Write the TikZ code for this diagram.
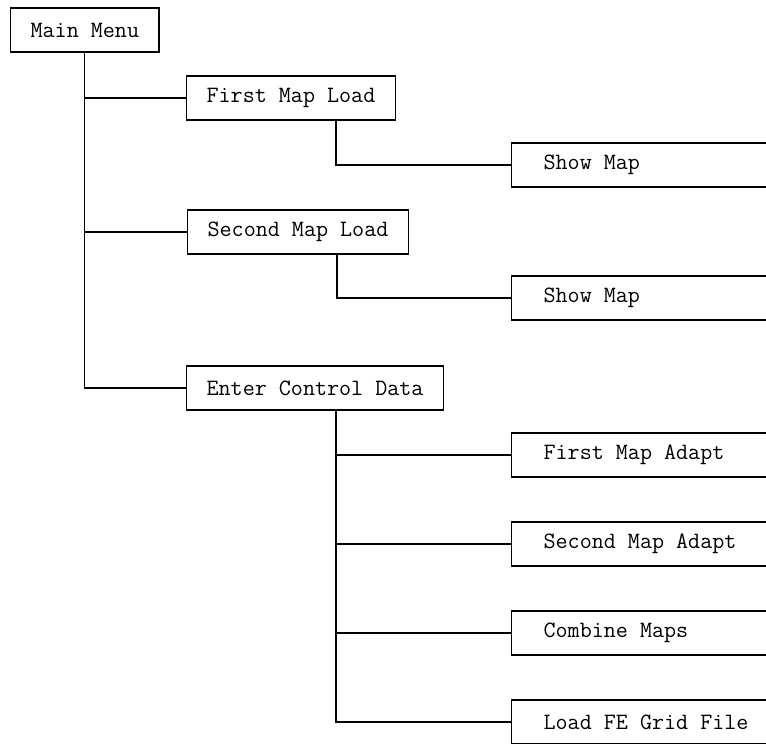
\documentclass[tikz,border=0pt]{standalone}
\usetikzlibrary{positioning,calc}
\begin{document}
\begin{tikzpicture}[
  x=1pt, y=-1pt,
  font=\ttfamily\fontsize{23.4}{27}\selectfont,
  box/.style={
    draw=black,
    line width=1.2pt,
    anchor=west,
    minimum height=44pt,
    inner xsep=20pt,
    inner ysep=0pt
  },
  leaf/.style={
    box,
    inner xsep=32pt,
    execute at begin node={\hbox to 260pt\bgroup},
    execute at end node={\hfil\egroup}
  },
  link/.style={line width=1.1pt, draw=black}
]
\useasboundingbox (0,0) rectangle (766,744);
\clip (0,0) rectangle (766,744);

% Level 1: main menu and its three entries.
\node[box] (menu)  at (10,30)   {Main Menu};
\node[box] (load1) at (186,98)  {First Map Load};
\node[box] (load2) at (187,232) {Second Map Load};
\node[box] (enter) at (186,388) {Enter Control Data};

% Level 2: sub-menus, running off the right edge.
\node[leaf] (show1)   at (511,165) {Show Map};
\node[leaf] (show2)   at (511,298) {Show Map};
\node[leaf] (adapt1)  at (511,455) {First Map Adapt};
\node[leaf] (adapt2)  at (511,544) {Second Map Adapt};
\node[leaf] (combine) at (511,633) {Combine Maps};
\node[leaf] (grid)    at (511,722) {Load FE Grid File};

% Trunk from the main menu.
\draw[link] (menu.south) |- (enter.west);
\draw[link] (menu.south |- load1.west) -- (load1.west);
\draw[link] (menu.south |- load2.west) -- (load2.west);

% Drops from the level 1 boxes.
\coordinate (drop1) at ($(load1.south west)+(150,0)$);
\coordinate (drop2) at ($(load2.south west)+(150,0)$);
\coordinate (drop3) at ($(enter.south west)+(150,0)$);

\draw[link] (drop1) |- (show1.west);
\draw[link] (drop2) |- (show2.west);
\draw[link] (drop3) |- (grid.west);
\draw[link] (drop3 |- adapt1.west) -- (adapt1.west);
\draw[link] (drop3 |- adapt2.west) -- (adapt2.west);
\draw[link] (drop3 |- combine.west) -- (combine.west);

\end{tikzpicture}
\end{document}
